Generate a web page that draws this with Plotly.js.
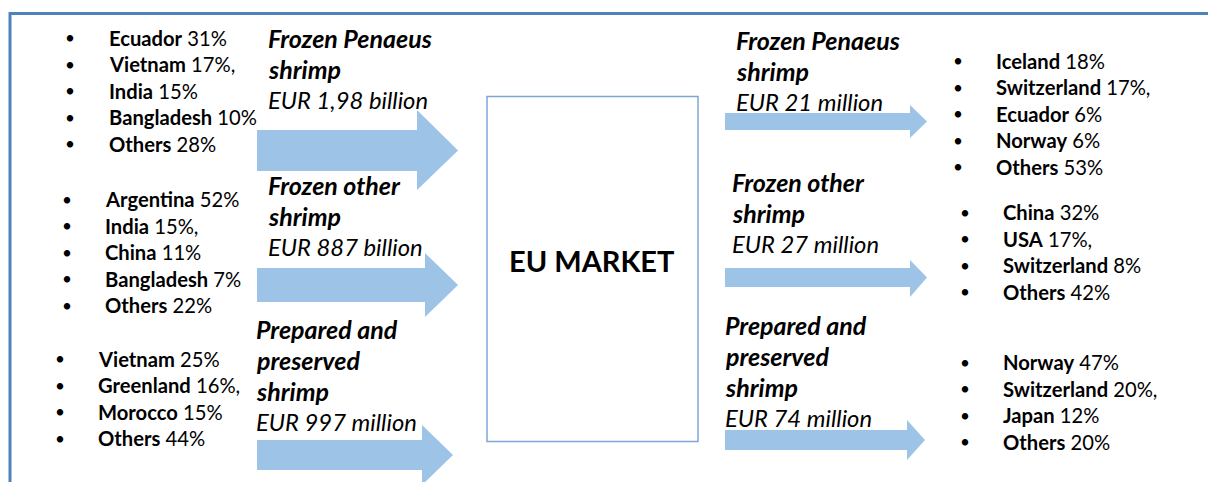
<!DOCTYPE html>
<html><head><meta charset="utf-8">
<script src="https://cdn.plot.ly/plotly-3.0.1.min.js"></script>
<style>html,body{margin:0;padding:0;background:#fff}#chart{width:1208px;height:482px}</style>
</head><body><div id="chart"></div>
<script>
// ---- Data ----
const centreLabel = "EU MARKET";
// Imports into the EU (left side)
const importProducts = [["Frozen Penaeus", "shrimp"], ["Frozen other", "shrimp"], ["Prepared and", "preserved", "shrimp"]];
const importValues = ["EUR 1,98 billion", "EUR 887 billion", "EUR 997 million"];
const importCountries = [
  ["Ecuador", "Vietnam", "India", "Bangladesh", "Others"],
  ["Argentina", "India", "China", "Bangladesh", "Others"],
  ["Vietnam", "Greenland", "Morocco", "Others"]
];
const importShares = [
  ["31%", "17%,", "15%", "10%", "28%"],
  ["52%", "15%,", "11%", "7%", "22%"],
  ["25%", "16%,", "15%", "44%"]
];
// Exports from the EU (right side)
const exportProducts = [["Frozen Penaeus", "shrimp"], ["Frozen other", "shrimp"], ["Prepared and", "preserved", "shrimp"]];
const exportValues = ["EUR 21 million", "EUR 27 million", "EUR 74 million"];
const exportCountries = [
  ["Iceland", "Switzerland", "Ecuador", "Norway", "Others"],
  ["China", "USA", "Switzerland", "Others"],
  ["Norway", "Switzerland", "Japan", "Others"]
];
const exportShares = [
  ["18%", "17%,", "6%", "6%", "53%"],
  ["32%", "17%,", "8%", "42%"],
  ["47%", "20%,", "12%", "20%"]
];

// ---- Layout geometry (positions only) ----
const FONT = "Lato, 'Open Sans', sans-serif";
const listFont = 20.2, titleFont = 25, valueFont = 23.8;
const lineStep = 26.5, titleStep = 31;
const padX = 2;
const importListPos = [{bx: 70, tx: 109, y: 37.5}, {bx: 67, tx: 105, y: 199}, {bx: 60, tx: 98, y: 358.5}];
const exportListPos = [{bx: 958, tx: 996, y: 60.5}, {bx: 965, tx: 1003, y: 212}, {bx: 965, tx: 1003, y: 362}];
const importTitlePos = [{x: 268, y: 37.5}, {x: 268, y: 185}, {x: 256, y: 329}];
const exportTitlePos = [{x: 736, y: 39.5}, {x: 732, y: 182}, {x: 725, y: 324.5}];
const importArrows = [
  {xs: 257, xh: 417, xt: 458, y0: 130, y1: 171, h0: 110, h1: 190},
  {xs: 257, xh: 425, xt: 458, y0: 268, y1: 302, h0: 253, h1: 317},
  {xs: 257, xh: 422, xt: 453, y0: 440, y1: 470, h0: 425, h1: 485}
];
const exportArrows = [
  {xs: 725, xh: 910, xt: 927, y0: 113, y1: 130, h0: 105, h1: 138},
  {xs: 725, xh: 910, xt: 927, y0: 268, y1: 287, h0: 260, h1: 297},
  {xs: 725, xh: 907, xt: 925, y0: 430, y1: 450, h0: 420, h1: 460}
];

const annotations = [];
const shapes = [];

function addText(x, y, text, size, anchor) {
  annotations.push({x: anchor === 'center' ? x : x - padX, y: y, xref: 'x', yref: 'y', text: text, showarrow: false,
    xanchor: anchor || 'left', yanchor: 'middle', font: {family: FONT, size: size, color: '#000'}});
}
function addList(countries, shares, pos) {
  countries.forEach((c, i) => {
    const y = pos.y + i * lineStep;
    addText(pos.bx, y, "•", listFont - 3, 'center');
    addText(pos.tx, y, "<b>" + c + "</b> " + shares[i], listFont);
  });
}
function addTitle(lines, value, pos) {
  lines.forEach((l, i) => addText(pos.x, pos.y + i * titleStep, "<b><i>" + l + "</i></b>", titleFont));
  addText(pos.x, pos.y + lines.length * titleStep, "<i>" + value + "</i>", valueFont);
}
function addArrow(a) {
  const yc = (a.y0 + a.y1) / 2;
  shapes.push({type: 'path', xref: 'x', yref: 'y', layer: 'below',
    path: `M${a.xs},${a.y0} L${a.xh},${a.y0} L${a.xh},${a.h0} L${a.xt},${yc} L${a.xh},${a.h1} L${a.xh},${a.y1} L${a.xs},${a.y1} Z`,
    fillcolor: '#9DC3E6', line: {width: 0}});
}

importCountries.forEach((c, k) => addList(c, importShares[k], importListPos[k]));
exportCountries.forEach((c, k) => addList(c, exportShares[k], exportListPos[k]));
importProducts.forEach((p, k) => addTitle(p, importValues[k], importTitlePos[k]));
exportProducts.forEach((p, k) => addTitle(p, exportValues[k], exportTitlePos[k]));
importArrows.forEach(addArrow);
exportArrows.forEach(addArrow);

// central box
shapes.push({type: 'rect', xref: 'x', yref: 'y', x0: 487, x1: 698, y0: 96.5, y1: 441.5,
  line: {color: '#7EA6D9', width: 1.5}, fillcolor: 'rgba(0,0,0,0)'});
addText(591.5, 260, "<b>" + centreLabel + "</b>", 29, 'center');
// outer frame (top and left edges)
shapes.push({type: 'line', xref: 'x', yref: 'y', x0: 10, x1: 1208, y0: 13.5, y1: 13.5, line: {color: '#4F81BD', width: 3}});
shapes.push({type: 'line', xref: 'x', yref: 'y', x0: 10, x1: 10, y0: 12, y1: 482, line: {color: '#4F81BD', width: 3}});

const layout = {
  width: 1208, height: 482,
  margin: {l: 0, r: 0, t: 0, b: 0},
  paper_bgcolor: '#fff', plot_bgcolor: '#fff',
  xaxis: {range: [0, 1208], visible: false, fixedrange: true},
  yaxis: {range: [482, 0], visible: false, fixedrange: true},
  showlegend: false,
  shapes: shapes,
  annotations: annotations
};
Plotly.newPlot('chart', [], layout, {displayModeBar: false, staticPlot: true});
</script>
</body></html>
